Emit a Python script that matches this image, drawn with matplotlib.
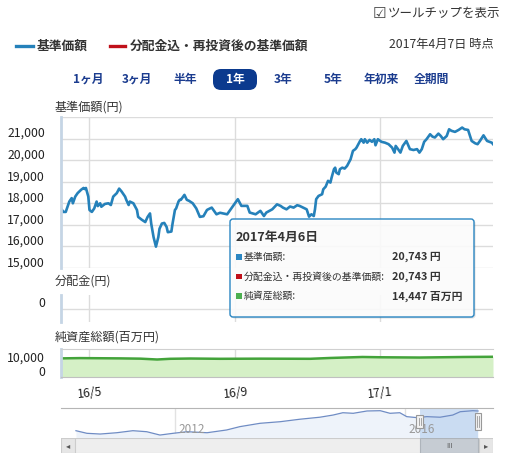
import matplotlib.pyplot as plt
import matplotlib.patches as mpatches
import pandas as pd

plt.rcParams['font.family'] = ['Noto Sans CJK JP', 'DejaVu Sans']

W, H = 507, 459

# 基準価額 (円) : 2016-04-07 からの経過日数と値
start = pd.Timestamp('2016-04-07')
price_days = [0, 2, 4, 7, 9, 10, 12, 14, 17, 19, 20, 21, 23, 24, 26, 28, 30, 31, 33, 34,
              37, 40, 42, 44, 47, 49, 51, 54, 55, 57, 58, 61, 64, 65, 68, 71, 73, 75, 76, 78,
              80, 82, 83, 85, 87, 89, 90, 93, 94, 96, 97, 99, 100, 101, 104, 106, 108, 111, 114, 117,
              120, 123, 124, 127, 131, 134, 140, 145, 149, 152, 157, 159, 164, 168, 171, 173, 178, 182, 185, 187,
              190, 193, 196, 199, 201, 204, 207, 209, 211, 213, 214, 215, 217, 220, 221, 223, 225, 227, 228, 230,
              231, 232, 234, 235, 237, 239, 241, 244, 245, 246, 248, 249, 252, 253, 255, 256, 258, 260, 262, 264,
              265, 267, 270, 273, 276, 279, 281, 282, 284, 286, 288, 291, 294, 297, 300, 302, 304, 306, 308, 311,
              313, 315, 318, 320, 322, 325, 327, 329, 332, 335, 338, 340, 343, 346, 349, 351, 353, 356, 359, 361,
              363, 364]
price_vals = [17760, 17600, 17600, 18080, 18240, 18000, 18310, 18470, 18630, 18710, 18660, 18710, 18310, 17690, 17600, 17760, 18080, 17870, 18000, 17840,
              17970, 18000, 17920, 18310, 18470, 18680, 18550, 18310, 18160, 17920, 18080, 18000, 17690, 17370, 17240, 17130, 17370, 17530, 17060, 16430,
              15990, 16430, 16820, 17060, 17090, 16900, 16660, 16690, 17060, 17690, 17760, 18080, 18160, 18160, 18390, 18160, 18110, 18000, 17760, 17370,
              17400, 17690, 17720, 17800, 17490, 17560, 17490, 17880, 18190, 17880, 17880, 17570, 17490, 17650, 17410, 17570, 17720, 17950, 17880, 17800,
              17720, 17850, 17800, 17910, 17880, 17800, 17720, 17380, 17490, 17410, 17720, 18190, 18340, 18420, 18650, 18770, 19040, 18960, 19190, 19580,
              19650, 19420, 19350, 19580, 19650, 19610, 19730, 20040, 20230, 20430, 20510, 20580, 20890, 20970, 20810, 20970, 20810, 20940, 20850, 20970,
              20690, 20970, 20850, 20810, 20740, 20580, 20350, 20660, 20510, 20350, 20660, 20890, 20510, 20470, 20510, 20350, 20510, 20850, 20970, 21200,
              21090, 21050, 21230, 21120, 20970, 21120, 21430, 21360, 21310, 21400, 21510, 21430, 21400, 20890, 20780, 20740, 20890, 21150, 20890, 20850,
              20810, 20743]

# 純資産総額 (百万円)
nav_days = [0, 16, 50, 67, 81, 92, 109, 134, 168, 210, 227, 254, 269, 302, 340, 364]
nav_vals = [13300, 13500, 13300, 13100, 12500, 13000, 13200, 13000, 13100, 13000, 13600, 14300, 14100, 13900, 14300, 14447]

# ナビゲーター (全期間)
hist_years = [2010.28, 2010.47, 2010.70, 2010.99, 2011.27, 2011.51, 2011.74, 2011.97, 2012.21, 2012.56,
              2012.90, 2013.13, 2013.48, 2013.83, 2014.17, 2014.52, 2014.75, 2014.92, 2015.10, 2015.34,
              2015.57, 2015.74, 2015.91, 2016.03, 2016.21, 2016.38, 2016.61, 2016.83, 2016.96, 2017.18, 2017.27]
hist_vals = [7700, 5900, 5400, 6300, 7700, 7000, 4700, 5900, 7000, 6300,
             8200, 10500, 12800, 13900, 15600, 17000, 18500, 20100, 19700, 21300,
             21500, 19700, 20100, 17400, 16700, 17400, 17000, 18500, 20800, 21500, 21300]

tick_dates = ['2016-05-01', '2016-09-01', '2017-01-01']
tick_labels = ['16/5', '16/9', '17/1']
price_ticks = [15000, 16000, 17000, 18000, 19000, 20000, 21000, 22000]
buttons = ['1ヶ月', '3ヶ月', '半年', '1年', '3年', '5年', '年初来', '全期間']
tooltip_title = '2017年4月6日'
tooltip_rows = [('基準価額:', '20,743 円', '#2a86c2'),
                ('分配金込・再投資後の基準価額:', '20,743 円', '#c0101a'),
                ('純資産総額:', '14,447 百万円', '#4caf50')]

BLUE = '#2581ba'
TXT = '#333333'

fig = plt.figure(figsize=(W / 100, H / 100), dpi=100)


def add_ax(x0, y0, x1, y1):
    return fig.add_axes([x0 / W, 1 - y1 / H, (x1 - x0) / W, (y1 - y0) / H])


def style_panel(ax):
    for s in ['top', 'right', 'bottom']:
        ax.spines[s].set_visible(False)
    ax.spines['left'].set_color('#c5d5e5')
    ax.spines['left'].set_linewidth(2)
    ax.tick_params(length=0, labelleft=False, labelbottom=False)
    ax.set_xlim(start, start + pd.Timedelta(days=364))
    ax.set_xticks(pd.to_datetime(tick_dates))
    ax.grid(color='#dcdcdc', lw=1)
    ax.set_axisbelow(True)


def ylabels(ax, values, labels):
    # ラベルは目盛線より少し上に置かれている
    for v, lab in zip(values, labels):
        ax.annotate(lab, xy=(0, v), xycoords=ax.get_yaxis_transform(),
                    xytext=(-16, 5), textcoords='offset pixels',
                    ha='right', va='center', fontsize=8.8, color='#222')


xdates = start + pd.to_timedelta(price_days, unit='D')
ndates = start + pd.to_timedelta(nav_days, unit='D')

# 基準価額
ax1 = add_ax(61, 117, 493, 268)
style_panel(ax1)
ax1.plot(xdates, price_vals, color=BLUE, lw=1.9, solid_joinstyle='round')
ax1.set_ylim(15000, 22000)
ax1.set_yticks(price_ticks)
ylabels(ax1, price_ticks[:-1], ['{:,}'.format(v) for v in price_ticks[:-1]])

# 分配金
ax2 = add_ax(61, 295, 493, 322)
style_panel(ax2)
ax2.set_ylim(-1, 1)
ax2.set_yticks([0])
ylabels(ax2, [0], ['0'])

# 純資産総額
ax3 = add_ax(61, 349, 493, 377)
style_panel(ax3)
ax3.spines['top'].set_visible(True)
ax3.spines['top'].set_color('#d0d0d0')
ax3.spines['bottom'].set_visible(True)
ax3.spines['bottom'].set_color('#c0c0c0')
ax3.grid(axis='y', visible=False)
ax3.set_ylim(0, 20000)
ax3.fill_between(ndates, nav_vals, 0, color='#d5f0c6', lw=0)
ax3.plot(ndates, nav_vals, color='#43a33a', lw=1.8)
ylabels(ax3, [0, 10000], ['0', '10,000'])
ax3.tick_params(labelbottom=True, pad=6, labelsize=8.8, labelcolor='#222')
ax3.set_xticklabels(tick_labels, rotation=6)

# ナビゲーター
ax4 = add_ax(61, 408, 493, 438)
ax4.set_xlim(2010.02, 2017.53)
ax4.set_ylim(2660, 23360)
for s in ['left', 'right', 'bottom']:
    ax4.spines[s].set_visible(False)
ax4.spines['top'].set_color('#b5b5b5')
ax4.set_xticks([])
ax4.set_yticks([])
for yr in [2012, 2016]:
    ax4.axvline(yr, color='#e2e2e2', lw=1, zorder=0)
    ax4.text(yr + 0.06, 0.27, str(yr), transform=ax4.get_xaxis_transform(),
             fontsize=8.5, color='#999999', ha='left', va='center', zorder=5)
ax4.fill_between(hist_years, hist_vals, 2660, color='#eef3fa', lw=0, zorder=1)
ax4.axvspan(2016.26, 2017.27, color='#bcd3f0', alpha=0.7, lw=0, zorder=2)
ax4.plot(hist_years, hist_vals, color='#6f8cc4', lw=0.9, zorder=3)
for hx, y0, hh in [(2016.26, 0.33, 0.44), (2017.27, 0.27, 0.56)]:
    ax4.add_patch(mpatches.Rectangle((hx - 0.06, y0), 0.12, hh, transform=ax4.get_xaxis_transform(),
                                     fc='#f2f2f2', ec='#999999', lw=0.8, zorder=6))
    ax4.plot([hx - 0.015, hx - 0.015], [y0 + 0.1, y0 + hh - 0.1], color='#999999', lw=0.6,
             transform=ax4.get_xaxis_transform(), zorder=7)
    ax4.plot([hx + 0.015, hx + 0.015], [y0 + 0.1, y0 + hh - 0.1], color='#999999', lw=0.6,
             transform=ax4.get_xaxis_transform(), zorder=7)

# スクロールバー
ax5 = add_ax(61, 438, 493, 453)
ax5.set_xlim(2010.02, 2017.53)
ax5.set_ylim(0, 1)
ax5.axis('off')
ax5.add_patch(mpatches.Rectangle((2010.02, 0.02), 7.51, 0.96, fc='#eeeeee', ec='#cccccc', lw=0.8))
ax5.add_patch(mpatches.Rectangle((2016.26, 0.02), 1.01, 0.96, fc='#c6ccd3', ec='#aeb4bb', lw=0.8))
ax5.add_patch(mpatches.Rectangle((2010.02, 0.02), 0.24, 0.96, fc='#e6e6e6', ec='#cccccc', lw=0.8))
ax5.add_patch(mpatches.Rectangle((2017.29, 0.02), 0.24, 0.96, fc='#e6e6e6', ec='#cccccc', lw=0.8))
ax5.text(2010.14, 0.5, '◂', ha='center', va='center', fontsize=6, color='#555555')
ax5.text(2017.41, 0.5, '▸', ha='center', va='center', fontsize=6, color='#555555')
ax5.text(2016.765, 0.5, 'III', ha='center', va='center', fontsize=5, color='#555555')

# 見出し・ボタン・ツールチップ (ピクセル座標のオーバーレイ)
ov = fig.add_axes([0, 0, 1, 1], zorder=10)
ov.set_xlim(0, W)
ov.set_ylim(H, 0)
ov.axis('off')
ov.patch.set_alpha(0)

ov.text(373, 13, '☑', family='DejaVu Sans', fontsize=11, color='#444444', ha='left', va='center')
ov.text(388, 13, 'ツールチップを表示', fontsize=9, color=TXT, ha='left', va='center')

ov.plot([16, 33], [46, 46], color=BLUE, lw=2.4)
ov.text(37, 46, '基準価額', fontsize=9.2, fontweight='bold', color=TXT, va='center')
ov.plot([110, 125], [46, 46], color='#c0101a', lw=2.4)
ov.text(130, 46, '分配金込・再投資後の基準価額', fontsize=9.2, fontweight='bold', color=TXT, va='center')
ov.text(494, 44, '2017年4月7日 時点', fontsize=8.8, color=TXT, ha='right', va='center')

btn_x = [88, 137, 185, 235, 283, 333, 381, 431]
for bx, name in zip(btn_x, buttons):
    if name == '1年':
        ov.add_patch(mpatches.FancyBboxPatch((213, 69), 44, 21, boxstyle='round,pad=0,rounding_size=8',
                                             fc='#0b3a8e', ec='none'))
        ov.text(bx, 79.5, name, fontsize=8.5, fontweight='bold', color='white', ha='center', va='center')
    else:
        ov.text(bx, 79, name, fontsize=8.5, fontweight='bold', color='#1b3c8f', ha='center', va='center')

ov.text(55, 107, '基準価額(円)', fontsize=8.7, color=TXT, va='center')
ov.text(55, 281, '分配金(円)', fontsize=8.7, color=TXT, va='center')
ov.text(55, 337, '純資産総額(百万円)', fontsize=8.7, color=TXT, va='center')

# ツールチップ
ov.add_patch(mpatches.FancyBboxPatch((231.5, 220.5), 244, 98, boxstyle='round,pad=0,rounding_size=3',
                                     fc=(0, 0, 0, 0.12), ec='none'))
ov.add_patch(mpatches.FancyBboxPatch((230, 219), 244, 98, boxstyle='round,pad=0,rounding_size=3',
                                     fc=(1, 1, 1, 0.88), ec='#2a86c2', lw=1))
ov.text(236, 237, tooltip_title, fontsize=9.2, fontweight='bold', color=TXT, va='center')
for i, (lab, val, col) in enumerate(tooltip_rows):
    ry = 257 + i * 19.5
    ov.add_patch(mpatches.Rectangle((236, ry - 3), 5.5, 5.5, fc=col, ec='none'))
    ov.text(244, ry, lab, fontsize=7.1, color=TXT, va='center')
    ov.text(392, ry, val, fontsize=7.8, fontweight='bold', color=TXT, va='center')

fig.savefig('out.png', dpi=100)
